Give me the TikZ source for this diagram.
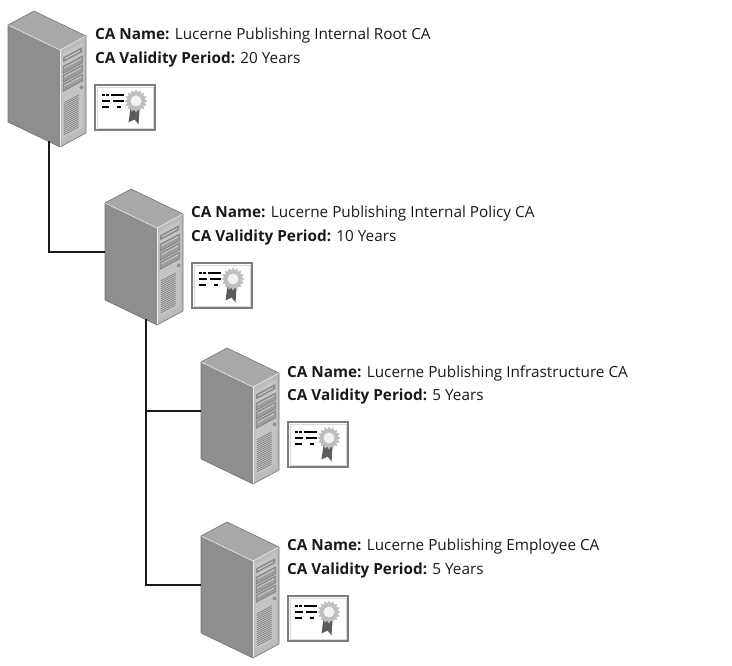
\documentclass[tikz,border=0pt]{standalone}
\usepackage{fontspec}
\setmainfont{Open Sans}
\definecolor{srvleft}{HTML}{8E8E8E}
\definecolor{srvtop}{HTML}{A8A8A8}
\definecolor{srvright}{HTML}{BBBBBB}
\definecolor{srvpanel}{HTML}{C4C4C4}
\definecolor{srvbay}{HTML}{9C9C9C}
\definecolor{srvedge}{HTML}{747474}
\definecolor{certframe}{HTML}{7E7E7E}
\definecolor{sealgray}{HTML}{BEBEBE}
\definecolor{ribbon}{HTML}{5C5C5C}
\tikzset{
  lbl/.style={inner sep=0pt, anchor=west, font=\fontsize{15.3}{18}\selectfont, text=black!90},
  link/.style={line width=1.9pt, black!90},
  vent/.style={line width=0.55pt, srvedge},
  % certificate icon, top-left corner at the pic origin
  cert/.pic={
    \draw[certframe, line width=1.8pt, fill=white] (0,0) rectangle (60,45);
    \draw[white!85!black, line width=0.4pt] (2.2,2.2) rectangle (57.8,42.8);
    \begin{scope}[line width=2.6pt, black]
      \draw (7,10) -- (9.5,10) (11,10) -- (13.5,10) (15.5,10) -- (29,10);
      \draw (7,16) -- (15,16) (18,16) -- (29,16);
      \draw (7,22) -- (14,22) (21.5,22) -- (26,22);
    \end{scope}
    \fill[ribbon] (35.5,23) -- (44.5,25) -- (43.5,39.5) -- (39.5,34.5) -- (33.5,37.5) -- cycle;
    \fill[sealgray] plot[samples at={0,...,31}]
      ({41+ifthenelse(isodd(\x),8.8,11.6)*cos(\x*11.25)},
       {16+ifthenelse(isodd(\x),8.8,11.6)*sin(\x*11.25)}) -- cycle;
    \fill[white!80!sealgray] (41,16) circle (5.5);
  },
  % tower server, pic origin at the front top corner
  server/.pic={
    \fill[srvleft] (-52,-25) -- (0,0) -- (0,97) -- (-52,72) -- cycle;
    \fill[srvtop] (-52,-25) -- (-26,-39) -- (26,-14) -- (0,0) -- cycle;
    \fill[srvright] (0,0) -- (26,-14) -- (26,83) -- (0,97) -- cycle;
    \draw[white!75!srvtop, line width=0.6pt] (-52,-25) -- (0,0) -- (26,-14);
    \draw[white!70!srvright, line width=0.6pt] (0,0) -- (0,97);
    \draw[srvedge, line width=0.6pt, line join=round]
      (-52,-25) -- (-26,-39) -- (26,-14) -- (26,83) -- (0,97) -- (-52,72) -- cycle;
    \begin{scope}[cm={26,14,0,1,(0,0)}]
      \fill[srvpanel] (0.08,5) rectangle (0.9,90);
      \fill[srvbay!90!black] (0.12,9) rectangle (0.86,14);
      \draw[white!70!srvbay, line width=0.7pt] (0.2,11.5) -- (0.78,11.5);
      \foreach \v in {18,27,36} {
        \draw[srvedge, fill=srvbay, line width=0.5pt] (0.12,\v) rectangle (0.86,\v+7);
        \draw[white!60!srvbay, line width=0.6pt] (0.16,\v+2.2) -- (0.82,\v+2.2);
      }
      \foreach \v in {55,57,...,87} \draw[vent] (0.14,\v) -- (0.72,\v);
    \end{scope}
    \fill[srvbay, draw=srvedge, line width=0.3pt] (21.5,37.5) circle (1.6);
    \pic at (35,35) {cert};
    \coordinate (-down) at (-11,91);
    \coordinate (-west) at (-52,24);
  }
}
\begin{document}
\begin{tikzpicture}[x=1pt,y=-1pt]
  \useasboundingbox (0,0) rectangle (732,666);

  \pic (s1) at (60,50)   {server};
  \pic (s2) at (157,228) {server};
  \pic (s3) at (253,387) {server};
  \pic (s4) at (253,561) {server};

  \draw[link] (s1-down) |- (s2-west);
  \draw[link] (s2-down) |- (s3-west);
  \draw[link] (s2-down) |- (s4-west);

  \node[lbl] (n1a) at (95,36)  {\textbf{CA Name:} Lucerne Publishing Internal Root CA};
  \node[lbl] (n1b) at (95,60)  {\textbf{CA Validity Period:} 20 Years};
  \node[lbl] (n2a) at (191,214) {\textbf{CA Name:} Lucerne Publishing Internal Policy CA};
  \node[lbl] (n2b) at (191,238) {\textbf{CA Validity Period:} 10 Years};
  \node[lbl] (n3a) at (287,373) {\textbf{CA Name:} Lucerne Publishing Infrastructure CA};
  \node[lbl] (n3b) at (287,397) {\textbf{CA Validity Period:} 5 Years};
  \node[lbl] (n4a) at (287,547) {\textbf{CA Name:} Lucerne Publishing Employee CA};
  \node[lbl] (n4b) at (287,571) {\textbf{CA Validity Period:} 5 Years};
\end{tikzpicture}
\end{document}
